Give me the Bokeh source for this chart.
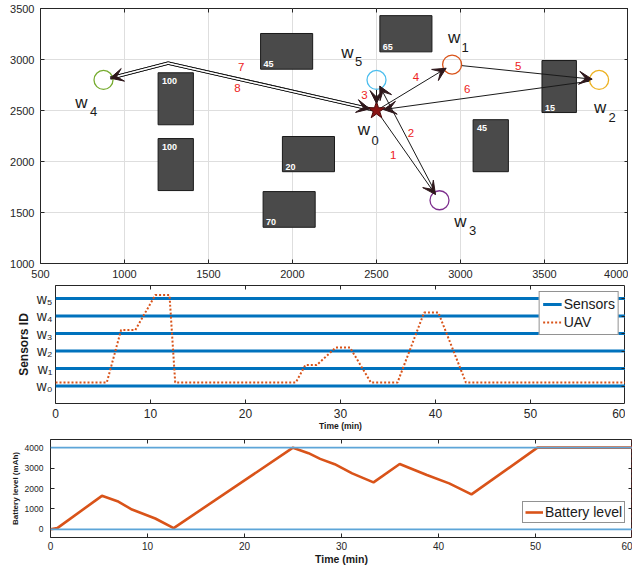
import math
from bokeh.plotting import figure
from bokeh.layouts import column
from bokeh.models import (ColumnDataSource, Arrow, VeeHead, LinearAxis, FixedTicker,
                          Span, Legend, LegendItem, CustomJSTickFormatter)
from bokeh.embed import file_html
from bokeh.resources import INLINE
from bokeh.core.properties import value

FONT = "Liberation Sans"
TXT = "#262626"

# ---------------- data ----------------
sensor_ids = [0, 1, 2, 3, 4, 5]
sensor_tick_labels = ["w\u2080", "w\u2081", "w\u2082", "w\u2083", "w\u2084", "w\u2085"]
sensor_x = [2500, 2950, 3825, 2875, 875, 2500]
sensor_y = [2500, 2950, 2800, 1620, 2800, 2800]

obstacle_left = [1200, 1200, 1810, 1940, 1825, 2520, 3485, 3075]
obstacle_right = [1410, 1410, 2120, 2250, 2135, 2830, 3690, 3285]
obstacle_bottom = [2360, 1715, 2905, 1900, 1355, 3075, 2480, 1900]
obstacle_top = [2870, 2225, 3255, 2245, 1705, 3430, 2990, 2410]
obstacle_value = ["100", "100", "45", "20", "70", "65", "15", "45"]
obstacle_label_top = [True, True, False, False, False, False, False, True]

trip_numbers = ["1", "2", "3", "4", "5", "6", "7", "8"]
trip_from = [0, 3, 5, 0, 1, 2, 0, 4]
trip_to = [3, 5, 0, 1, 2, 0, 4, 0]
trip_via = [[], [], [], [], [], [], [(1260, 2965)], [(1260, 2965)]]
trip_label_x = [2600, 2705, 2428, 2735, 3343, 3040, 1694, 1672]
trip_label_y = [2060, 2278, 2648, 2827, 2935, 2706, 2925, 2716]

time_ticks = [0, 10, 20, 30, 40, 50, 60]
uav_time = [0, 5.4, 6.9, 8.4, 10.5, 12.0, 12.6, 25.3, 26.3, 27.5, 29.5, 31.0,
            33.2, 36.0, 38.8, 40.3, 43.2, 60]
uav_sensor = [0, 0, 3, 3, 5, 5, 0, 0, 1, 1, 2, 2, 0, 0, 4, 4, 0, 0]

battery_time = [0, 0.7, 5.3, 6.9, 8.4, 10.8, 12.7, 25.0, 26.6, 27.8, 29.3, 31.1,
                33.3, 36.0, 38.8, 41.1, 43.4, 50.2, 60]
battery_level = [0, 60, 1640, 1380, 970, 530, 60, 4000, 3730, 3450, 3190, 2740,
                 2300, 3200, 2660, 2250, 1710, 4000, 4000]
battery_ticks = [0, 1000, 2000, 3000, 4000]
battery_min = 0
battery_max = 4000
mission_end = 60

# ---------------- style / layout ----------------
sensor_colors = ["#8B1515", "#D95319", "#EDB120", "#7E2F8E", "#77AC30", "#4DBEEE"]
name_dx = [-12.5, 2, 1, 21, -22, -29]
name_dy = [19, -27, 28, 21, 23, -27]
sub_dx = [-1.5, 13, 13, 33, -10, -18]
sub_dy = [30, -17, 38, 30, 32, -18]
UAV_OFFSET = 0.2
HEAD = "#2e171b"


def style_main(p, xticks, yticks, xfs, yfs, xst, yst):
    bx = p.below[0]
    ly = p.left[0]
    bx.ticker = FixedTicker(ticks=xticks)
    ly.ticker = FixedTicker(ticks=yticks)
    for ax, fs, st in ((bx, xfs, xst), (ly, yfs, yst)):
        ax.axis_line_color = None
        ax.major_tick_in = 4
        ax.major_tick_out = 0
        ax.minor_tick_line_color = None
        ax.major_tick_line_color = TXT
        ax.major_label_text_font = FONT
        ax.major_label_text_font_size = fs
        ax.major_label_text_color = TXT
        ax.major_label_standoff = st
        ax.axis_label_text_font = FONT
        ax.axis_label_text_font_style = "bold"
        ax.axis_label_text_color = "#1a1a1a"
    for side, ticks in (("above", xticks), ("right", yticks)):
        ax = LinearAxis(ticker=FixedTicker(ticks=ticks),
                        formatter=CustomJSTickFormatter(code="return ''"),
                        major_tick_in=4, major_tick_out=0,
                        minor_tick_line_color=None, axis_line_color=None,
                        major_tick_line_color=TXT, major_label_standoff=0)
        p.add_layout(ax, side)
    p.outline_line_color = TXT
    p.outline_line_width = 1
    p.outline_line_alpha = 1
    p.background_fill_color = "white"
    p.border_fill_color = "white"


# ================= top panel: map =================
FW1, FH1 = 588, 255
X0, X1, Y0, Y1 = 500, 4000, 1000, 3500
p1 = figure(x_range=(X0, X1), y_range=(Y0, Y1), frame_width=FW1, frame_height=FH1,
            min_border_left=40, min_border_right=0, min_border_top=8,
            min_border_bottom=19, output_backend="svg", toolbar_location=None)
style_main(p1, list(range(500, 4001, 500)), list(range(1000, 3501, 500)),
           "11px", "11px", 6, 6)
p1.grid.grid_line_color = "#dedede"
p1.grid.grid_line_width = 1

kx = FW1 / (X1 - X0)
ky = FH1 / (Y1 - Y0)

# obstacles
p1.quad(left=obstacle_left, right=obstacle_right, bottom=obstacle_bottom, top=obstacle_top,
        fill_color="#4a4a4a", line_color="#1a1a1a", line_width=1)
top_idx = [i for i in range(len(obstacle_value)) if obstacle_label_top[i]]
bot_idx = [i for i in range(len(obstacle_value)) if not obstacle_label_top[i]]
p1.text(x=[obstacle_left[i] for i in top_idx], y=[obstacle_top[i] for i in top_idx],
        text=[obstacle_value[i] for i in top_idx], x_offset=4, y_offset=5,
        text_baseline="top", text_align="left", text_font=value(FONT),
        text_font_style="bold", text_font_size="9px", text_color="white")
p1.text(x=[obstacle_left[i] for i in bot_idx], y=[obstacle_bottom[i] for i in bot_idx],
        text=[obstacle_value[i] for i in bot_idx], x_offset=3, y_offset=-2,
        text_baseline="bottom", text_align="left", text_font=value(FONT),
        text_font_style="bold", text_font_size="9px", text_color="white")


def move_toward(p, q, d):
    dxp = (q[0] - p[0]) * kx
    dyp = (q[1] - p[1]) * ky
    L = math.hypot(dxp, dyp)
    if L == 0:
        return p
    return (p[0] + dxp / L * d / kx, p[1] + dyp / L * d / ky)


norm_xs, norm_ys, dbl_xs, dbl_ys = [], [], [], []
hx0, hy0, hx1, hy1 = [], [], [], []
for i in range(len(trip_from)):
    a, b = trip_from[i], trip_to[i]
    pts = [(sensor_x[a], sensor_y[a])] + list(trip_via[i]) + [(sensor_x[b], sensor_y[b])]
    s0 = 2 if a == 0 else 9
    s1 = 7
    pts[0] = move_toward(pts[0], pts[1], s0)
    pts[-1] = move_toward(pts[-1], pts[-2], s1)
    xs = [pt[0] for pt in pts]
    ys = [pt[1] for pt in pts]
    if trip_via[i]:
        dbl_xs.append(xs)
        dbl_ys.append(ys)
    else:
        norm_xs.append(xs)
        norm_ys.append(ys)
    hx0.append(pts[-2][0]); hy0.append(pts[-2][1])
    hx1.append(pts[-1][0]); hy1.append(pts[-1][1])

p1.multi_line(xs=dbl_xs, ys=dbl_ys, line_color="#1a1a1a", line_width=3.4)
p1.multi_line(xs=dbl_xs, ys=dbl_ys, line_color="white", line_width=1.3)
p1.multi_line(xs=norm_xs, ys=norm_ys, line_color="#1a1a1a", line_width=1)

# sensors
p1.scatter(x=sensor_x[1:], y=sensor_y[1:], marker="circle", size=19,
           fill_color=None, line_color=sensor_colors[1:], line_width=1.3)
p1.scatter(x=sensor_x[:1], y=sensor_y[:1], marker="star", size=18,
           fill_color=sensor_colors[0], line_color="#4a0808", line_width=1)

head_src = ColumnDataSource(dict(x0=hx0, y0=hy0, x1=hx1, y1=hy1))
p1.add_layout(Arrow(x_start="x0", y_start="y0", x_end="x1", y_end="y1", source=head_src,
                    line_color=None,
                    end=VeeHead(size=13, fill_color=HEAD, line_color=HEAD, line_width=1)))

name_src = ColumnDataSource(dict(x=sensor_x, y=sensor_y, dx=name_dx, dy=name_dy,
                                 sdx=sub_dx, sdy=sub_dy,
                                 w=["w"] * len(sensor_ids),
                                 d=[str(s) for s in sensor_ids]))
p1.text(x="x", y="y", text="w", x_offset="dx", y_offset="dy", source=name_src,
        text_align="center", text_baseline="middle", text_font=value(FONT),
        text_font_size="17px", text_color="#1a1a1a")
p1.text(x="x", y="y", text="d", x_offset="sdx", y_offset="sdy", source=name_src,
        text_align="center", text_baseline="middle", text_font=value(FONT),
        text_font_size="13px", text_color="#1a1a1a")
p1.text(x=trip_label_x, y=trip_label_y, text=trip_numbers, text_align="center",
        text_baseline="middle", text_font=value(FONT), text_font_size="11.5px",
        text_color="#EE2222")

# ================= middle panel: UAV timeline =================
FW2, FH2 = 570, 118
p2 = figure(x_range=(0, 60), y_range=(-1, 5.75), frame_width=FW2, frame_height=FH2,
            min_border_left=55, min_border_right=0, min_border_top=3,
            min_border_bottom=31, output_backend="svg", toolbar_location=None)
style_main(p2, time_ticks, sensor_ids, "12px", "14px", 5, 3)
p2.grid.visible = False
p2.left[0].major_tick_line_color = None
p2.left[0].major_label_overrides = {s: lab for s, lab in zip(sensor_ids, sensor_tick_labels)}
p2.left[0].axis_label = "Sensors ID"
p2.left[0].axis_label_text_font_size = "12px"
p2.left[0].axis_label_standoff = 3
p2.below[0].axis_label = "Time (min)"
p2.below[0].axis_label_text_font_size = "8.5px"
p2.below[0].axis_label_standoff = 0

seg = p2.segment(x0=[time_ticks[0]] * len(sensor_ids), x1=[time_ticks[-1]] * len(sensor_ids),
                 y0=sensor_ids, y1=sensor_ids, line_color="#0072BD", line_width=3)
uav = p2.line(x=uav_time, y=[s + UAV_OFFSET for s in uav_sensor], line_color="#D95319",
              line_width=2, line_dash="2 2")

leg2 = Legend(items=[LegendItem(label="Sensors", renderers=[seg]),
                     LegendItem(label="UAV", renderers=[uav])],
              location="top_right", margin=6, padding=3, spacing=0,
              glyph_width=19, glyph_height=18, label_height=18, label_standoff=2,
              label_text_font=FONT, label_text_font_size="14px", label_text_color="#1a1a1a",
              border_line_color=TXT, border_line_width=1, background_fill_alpha=1)
p2.add_layout(leg2)

# ================= bottom panel: battery =================
FW3, FH3 = 582, 98
p3 = figure(x_range=(0, 60), y_range=(-400, 4400), frame_width=FW3, frame_height=FH3,
            min_border_left=50, min_border_right=0, min_border_top=5,
            min_border_bottom=31, output_backend="svg", toolbar_location=None)
style_main(p3, time_ticks, battery_ticks, "10px", "8.5px", 4, 7)
p3.grid.visible = False
p3.below[0].axis_label = "Time (min)"
p3.below[0].axis_label_text_font_size = "10.5px"
p3.below[0].axis_label_standoff = 0
p3.left[0].axis_label = "Battery level (mAh)"
p3.left[0].axis_label_text_font_size = "8px"
p3.left[0].axis_label_standoff = 2

bat = p3.line(x=battery_time, y=battery_level, line_color="#D95319", line_width=2.6)
for lvl in (battery_min, battery_max):
    p3.add_layout(Span(location=lvl, dimension="width", line_color="#5DA5D8",
                       line_width=1.6))
p3.add_layout(Span(location=mission_end, dimension="height", line_color="#E02020",
                   line_width=1.5, line_dash="3 2"))

leg3 = Legend(items=[LegendItem(label="Battery level", renderers=[bat])],
              location=(FW3 - 6 - 104, 14), padding=2, spacing=0,
              glyph_width=18, glyph_height=16, label_height=16, label_standoff=2,
              label_text_font=FONT, label_text_font_size="14px", label_text_color="#1a1a1a",
              border_line_color=TXT, border_line_width=1, background_fill_alpha=1)
p3.add_layout(leg3)

layout = column(column(p1), column(p2), column(p3), spacing=0)
open("out.html", "w").write(file_html(layout, INLINE))
